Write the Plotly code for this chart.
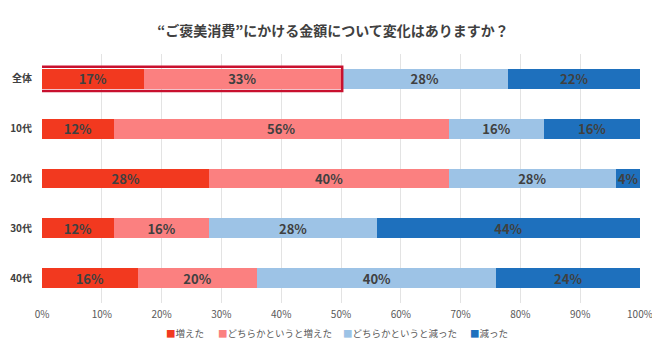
import plotly.graph_objects as go

categories = ["全体", "10代", "20代", "30代", "40代"]
series_names = ["増えた", "どちらかというと増えた", "どちらかというと減った", "減った"]
increased = [17, 12, 28, 12, 16]
somewhat_increased = [33, 56, 40, 16, 20]
somewhat_decreased = [28, 16, 28, 28, 40]
decreased = [22, 16, 4, 44, 24]
x_ticks = [0, 10, 20, 30, 40, 50, 60, 70, 80, 90, 100]
x_tick_labels = [f"{v}%" for v in x_ticks]

colors = ["#F2391F", "#FB8080", "#9DC3E6", "#1E70BD"]
series_values = [increased, somewhat_increased, somewhat_decreased, decreased]

FONT = "Noto Sans CJK JP"

# The page body has an 8px default margin; size the figure so it fits the window.
W, H = 652, 354
ML, MR, MT, MB = 34, 20, 46, 59
plot_w = W - ML - MR

fig = go.Figure()
for name, vals, col in zip(series_names, series_values, colors):
    fig.add_trace(go.Bar(
        y=categories, x=vals, name=name, orientation="h",
        marker=dict(color=col, line=dict(width=0)),
        text=[f"<b>{v}%</b>" for v in vals], textposition="inside",
        insidetextanchor="middle",
        textfont=dict(family=FONT, size=13, color="#404040"),
        hoverinfo="skip", showlegend=False,
    ))

# highlight box around 全体 increased portion
fig.add_shape(type="rect", xref="x", yref="y",
              x0=-0.4, x1=increased[0] + somewhat_increased[0] + 0.2,
              y0=-0.245, y1=0.245,
              line=dict(color="#C8102E", width=2.5), fillcolor="rgba(0,0,0,0)")

# legend drawn as text items (square marker + label)
legend_px = [164, 216, 341, 468]  # left edge of each item in page px
for name, col, px in zip(series_names, colors, legend_px):
    fig.add_annotation(
        xref="paper", yref="paper", x=(px - 8 - ML) / plot_w, y=-0.1205,
        xanchor="left", yanchor="middle", showarrow=False,
        text=f"<span style='color:{col}'>■</span>{name}",
        font=dict(family=FONT, size=9.5, color="#595959"),
    )

fig.update_layout(
    barmode="stack", bargap=0.6,
    width=W, height=H,
    margin=dict(l=ML, r=MR, t=MT, b=MB),
    paper_bgcolor="white", plot_bgcolor="white",
    font=dict(family=FONT, color="#595959"),
    title=dict(text="<b>“ご褒美消費”にかける金額について変化はありますか？</b>",
               x=(333 - 8) / W, xanchor="center", y=1 - 23 / H, yanchor="middle",
               font=dict(family=FONT, size=14, color="#404040")),
    uniformtext=dict(minsize=12, mode="show"),
    showlegend=False,
)
fig.update_xaxes(range=[0, 100], tickvals=x_ticks, ticktext=x_tick_labels,
                 showgrid=True, gridcolor="#E3E3E3", gridwidth=1, zeroline=False,
                 tickfont=dict(family=FONT, size=10, color="#595959"), ticks="",
                 ticklabelstandoff=4,
                 showline=False, fixedrange=True, automargin=False)
fig.update_yaxes(categoryorder="array", categoryarray=categories, autorange="reversed",
                 tickfont=dict(family=FONT, size=10, color="#404040"),
                 ticklabelstandoff=9, showgrid=False, fixedrange=True, automargin=False,
                 tickprefix="<b>", ticksuffix="</b>")

fig.write_html("out.html")
